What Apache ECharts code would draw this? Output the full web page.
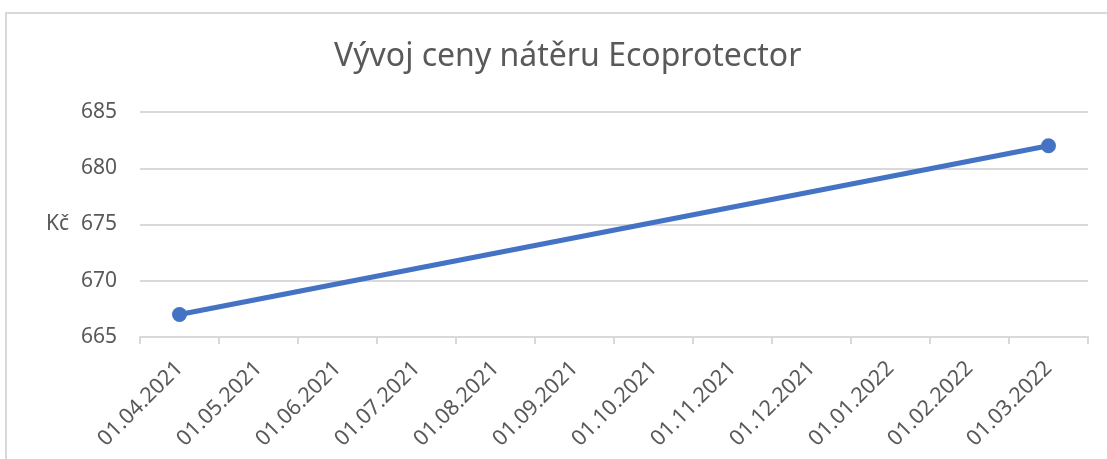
<!DOCTYPE html>
<html>
<head>
<meta charset="utf-8">
<script src="https://cdn.jsdelivr.net/npm/echarts@6/dist/echarts.min.js"></script>
<style>
  html, body { margin: 0; padding: 0; background: #fff; }
  #chart { width: 1107px; height: 459px; }
</style>
</head>
<body>
<div id="chart"></div>
<script>
// data
const dates = ['01.04.2021', '01.05.2021', '01.06.2021', '01.07.2021', '01.08.2021', '01.09.2021',
  '01.10.2021', '01.11.2021', '01.12.2021', '01.01.2022', '01.02.2022', '01.03.2022']
const prices = [667, null, null, null, null, null, null, null, null, null, null, 682]
const yMin = 665
const yMax = 685
const yStep = 5

const font = 'Noto Sans'
const grey = '#595959'

const chart = echarts.init(document.getElementById('chart'))

const option = {
  backgroundColor: '#fff',
  animation: false,
  graphic: [{
    type: 'rect',
    shape: { x: 6, y: 13, width: 1110, height: 460 },
    style: { fill: 'none', stroke: '#d9d9d9', lineWidth: 2 },
    silent: true
  }],
  title: {
    text: 'Vývoj ceny nátěru Ecoprotector',
    left: 329,
    top: 36,
    textStyle: { fontFamily: font, fontSize: 32, fontWeight: 'normal', color: grey }
  },
  grid: { left: 140, right: 19, top: 112, bottom: 122 },
  xAxis: {
    type: 'category',
    data: dates,
    boundaryGap: true,
    axisLine: { lineStyle: { color: '#d9d9d9', width: 2 } },
    axisTick: { show: true, length: 7, lineStyle: { color: '#d9d9d9', width: 2 } },
    axisLabel: {
      rotate: 45, interval: 0, margin: 28,
      fontFamily: font, fontSize: 21.5, color: grey
    }
  },
  yAxis: {
    type: 'value',
    min: yMin, max: yMax, interval: yStep,
    name: 'Kč',
    nameLocation: 'middle',
    nameRotate: 0,
    nameGap: 71,
    nameTextStyle: { fontFamily: font, fontSize: 21, color: grey },
    axisLine: { show: false },
    axisTick: { show: false },
    axisLabel: { margin: 23, fontFamily: font, fontSize: 21, color: grey },
    splitLine: { lineStyle: { color: '#d9d9d9', width: 2 } }
  },
  series: [{
    type: 'line',
    data: prices,
    connectNulls: true,
    symbol: 'circle',
    symbolSize: 15,
    lineStyle: { color: '#4472c4', width: 5 },
    itemStyle: { color: '#4472c4' }
  }]
}

chart.setOption(option)
</script>
</body>
</html>
